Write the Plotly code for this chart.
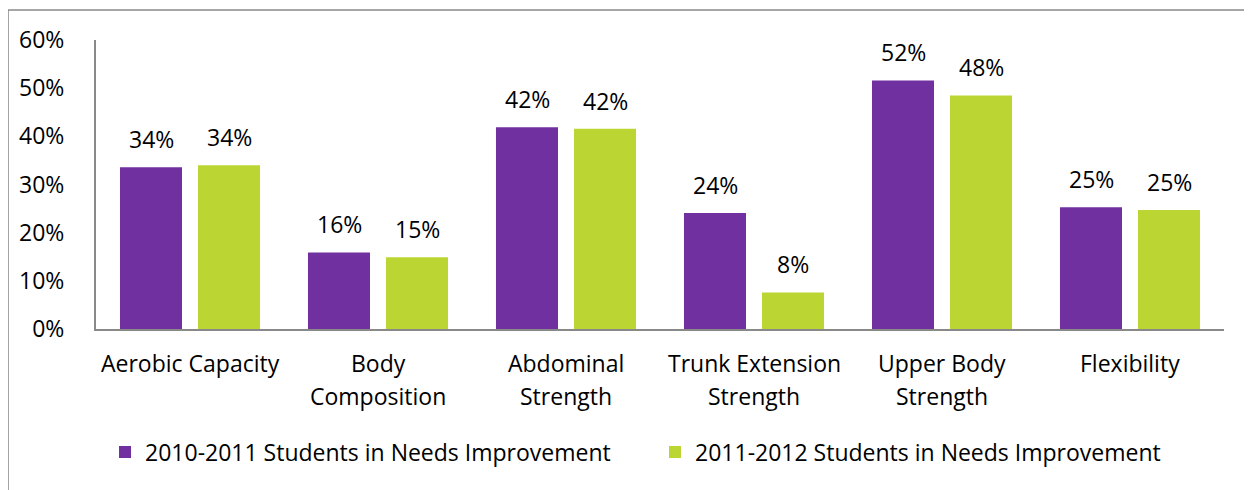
import plotly.graph_objects as go

categories = ["Aerobic Capacity", "Body Composition", "Abdominal Strength",
              "Trunk Extension Strength", "Upper Body Strength", "Flexibility"]
cat_line1 = ["Aerobic Capacity", "Body", "Abdominal", "Trunk Extension", "Upper Body", "Flexibility"]
cat_line2 = ["", "Composition", "Strength", "Strength", "Strength", ""]
series_names = ["2010-2011 Students in Needs Improvement",
                "2011-2012 Students in Needs Improvement"]
values_2010 = [0.336, 0.159, 0.419, 0.241, 0.516, 0.253]
values_2011 = [0.340, 0.149, 0.416, 0.076, 0.485, 0.247]
colors = ["#7030A0", "#BBD632"]
ytick_vals = [0, 0.1, 0.2, 0.3, 0.4, 0.5, 0.6]
ytick_text = ["0%", "10%", "20%", "30%", "40%", "50%", "60%"]

FONT = "Open Sans"
FS = 23
fig = go.Figure()
for name, vals, col in zip(series_names, [values_2010, values_2011], colors):
    fig.add_trace(go.Bar(x=categories, y=vals, name=name,
                         marker=dict(color=col, line=dict(width=0))))

annotations = []
for vals, xs in [(values_2010, -39), (values_2011, 39)]:
    for c, v in zip(categories, vals):
        annotations.append(dict(x=c, y=v, xref="x", yref="y", text=f"{round(v*100):d}%",
                                showarrow=False, xshift=xs, yshift=10, yanchor="bottom",
                                font=dict(family=FONT, size=FS, color="#000")))
for c, l1, l2 in zip(categories, cat_line1, cat_line2):
    annotations.append(dict(x=c, y=-0.1176, xref="x", yref="paper", text=l1,
                            showarrow=False, yanchor="middle",
                            font=dict(family=FONT, size=FS, color="#000")))
    if l2:
        annotations.append(dict(x=c, y=-0.2318, xref="x", yref="paper", text=l2,
                                showarrow=False, yanchor="middle",
                                font=dict(family=FONT, size=FS, color="#000")))

fig.update_layout(
    width=1244, height=482,
    margin=dict(l=88, r=28, t=32, b=161),
    paper_bgcolor="white", plot_bgcolor="white",
    barmode="group", bargap=0.17, bargroupgap=0.205,
    font=dict(family=FONT, size=FS, color="#000"),
    annotations=annotations,
    showlegend=True,
    legend=dict(orientation="h", x=0.008, xanchor="left", y=-0.4256, yanchor="middle",
                font=dict(family=FONT, size=FS, color="#000"), entrywidth=505,
                entrywidthmode="pixels"),
    xaxis=dict(showline=True, linecolor="#898989", linewidth=2, ticks="",
               showticklabels=False),
    yaxis=dict(range=[0, 0.6], tickvals=ytick_vals, ticktext=ytick_text,
               showline=True, linecolor="#898989", linewidth=2, showgrid=False,
               zeroline=False, ticks="", ticklabelstandoff=25,
               tickfont=dict(family=FONT, size=FS)),
    shapes=[dict(type="rect", xref="paper", yref="paper", x0=-0.078, x1=1.2,
                 y0=-1.0, y1=1.1038, line=dict(color="#898989", width=1.5),
                 fillcolor="rgba(0,0,0,0)", layer="below")],
)
fig.write_html("out.html")
